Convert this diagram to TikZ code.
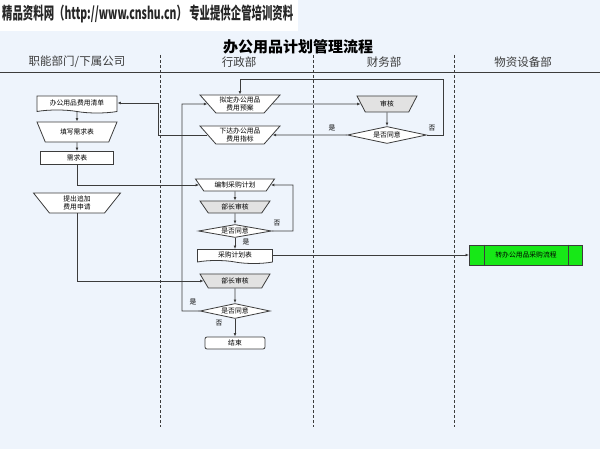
\documentclass[tikz,border=0pt]{standalone}
\usepackage{fontspec}
\usepackage{graphicx}
\usetikzlibrary{shapes.geometric,shapes.symbols,arrows.meta}
\newfontfamily\cjk{Noto Sans CJK SC}
\definecolor{bgblue}{HTML}{EEF4FC}
\definecolor{linec}{HTML}{3C3C3C}
\definecolor{boxgray}{HTML}{E2E2E2}
\definecolor{boxgreen}{HTML}{17E817}

\begin{document}
\begin{tikzpicture}[x=1pt,y=-1pt,font=\cjk\fontsize{6.8}{7.6}\selectfont,
  ln/.style={draw=linec,line width=0.8pt},
  arr/.style={ln,-{Latex[length=3.5pt,width=2.8pt]}},
  op/.style={ln,trapezium,shape border rotate=180,trapezium left angle=45,trapezium right angle=45,trapezium stretches body,fill=white,inner sep=1pt,align=center},
  opg/.style={op,fill=boxgray},
  docbox/.style={ln,tape,tape bend top=none,tape bend bottom=out and in,tape bend height=3pt,fill=white,inner sep=1pt},
  box/.style={ln,rectangle,fill=white,inner sep=1pt},
  ask/.style={ln,diamond,aspect=5,fill=white,inner sep=0.5pt},
  lbl/.style={inner sep=0pt},
  lanesep/.style={draw=linec,densely dashed,line width=0.8pt},
  lane/.style={font=\cjk\fontsize{11.5}{13}\selectfont,text=linec}]
  \fill[bgblue] (0,0) rectangle (600,449);
  \fill[white] (0,0) rectangle (298,31);
  \useasboundingbox (0,0) rectangle (600,449);
  \node[anchor=west,inner sep=0pt,text=black!85] (mark) at (2,14) {\resizebox*{291pt}{18pt}{\cjk\bfseries 精品资料网（http://www.cnshu.cn） 专业提供企管培训资料}};
  % lanes
  \node[font=\cjk\fontsize{15}{17}\selectfont\bfseries] (title) at (298,47) {办公用品计划管理流程};
  \node[lane] (h1) at (77,62) {职能部门/下属公司};
  \node[lane] (h2) at (239,62) {行政部};
  \node[lane] (h3) at (384,62) {财务部};
  \node[lane] (h4) at (523,62) {物资设备部};
  \draw[ln] (0,72) -- (600,72);
  \draw[lanesep] (160,55) -- (160,427);
  \draw[lanesep] (313,55) -- (313,427);
  \draw[lanesep] (454,55) -- (454,427);
  % nodes
  \node[docbox,minimum width=80pt,minimum height=17pt] (list) at (77,103) {办公用品费用清单};
  \node[op,minimum width=80pt,minimum height=20pt] (form) at (77,132) {填写需求表};
  \node[box,minimum width=73pt,minimum height=13pt] (req) at (77,158) {需求表};
  \node[op,minimum width=87pt,minimum height=20pt] (extra) at (77,203) {提出追加\\费用申请};
  \node[op,minimum width=80pt,minimum height=18pt] (draft) at (240,104) {拟定办公用品\\费用预案};
  \node[op,minimum width=80pt,minimum height=18pt] (issue) at (240,135) {下达办公用品\\费用指标};
  \node[opg,minimum width=60pt,minimum height=16pt] (audit) at (387,104) {审核};
  \node[ask,minimum width=79pt,minimum height=17pt] (okfin) at (387,135) {是否同意};
  \node[op,minimum width=79pt,minimum height=12pt] (plan) at (235,185) {编制采购计划};
  \node[opg,minimum width=70pt,minimum height=12pt] (chk1) at (235,207) {部长审核};
  \node[ask,minimum width=73pt,minimum height=13pt] (ok1) at (235,231) {是否同意};
  \node[docbox,minimum width=75pt,minimum height=14pt] (plist) at (235,255) {采购计划表};
  \node[opg,minimum width=70pt,minimum height=14pt] (chk2) at (235,281) {部长审核};
  \node[ask,minimum width=70pt,minimum height=15pt] (ok2) at (235,311) {是否同意};
  \node[ln,rounded corners=2pt,minimum width=60pt,minimum height=12pt,fill=white,inner sep=0.5pt] (stop) at (235,343) {结束};
  \node[ln,fill=boxgreen,minimum width=113pt,minimum height=20pt] (tran) at (526,255) {转办公用品采购流程};
  \draw[ln] ([xshift=15pt]tran.north west) -- ([xshift=15pt]tran.south west)
    ([xshift=-15pt]tran.north east) -- ([xshift=-15pt]tran.south east);
  \coordinate (backfin) at (443,79);
  \coordinate (backleft) at (158,103);
  \coordinate (backplan) at (293,185);
  \coordinate (backtop) at (182,104);
  % connectors
  \draw[arr] (list) -- (form);
  \draw[arr] (form) -- (req);
  \draw[arr] (req.south) |- (plan.west);
  \draw[arr] (extra.south) |- (chk2.west);
  \draw[arr] (draft.east) -- (audit.west);
  \draw[arr] (audit) -- (okfin);
  \draw[arr] (okfin.east) -| (backfin) -| (draft.north);
  \draw[arr] (okfin.west) -- (issue.east);
  \draw[arr] (issue.west) -| (backleft) -- (list.east);
  \draw[arr] (plan) -- (chk1);
  \draw[arr] (chk1) -- (ok1);
  \draw[arr] (ok1) -- (plist);
  \draw[arr] (ok1.east) -| (backplan) -- (plan.east);
  \draw[arr] (plist.east) -- (tran.west);
  \draw[arr] (chk2) -- (ok2);
  \draw[arr] (ok2.west) -| (backtop) -- (draft.west);
  \draw[arr] (ok2) -- (stop);
  \node[lbl] (no1) at (432,128) {否};
  \node[lbl] (yes1) at (332,128) {是};
  \node[lbl] (no2) at (277,223) {否};
  \node[lbl] (yes2) at (246,242) {是};
  \node[lbl] (yes3) at (193,302) {是};
  \node[lbl] (no3) at (219,323) {否};
\end{tikzpicture}
\end{document}
